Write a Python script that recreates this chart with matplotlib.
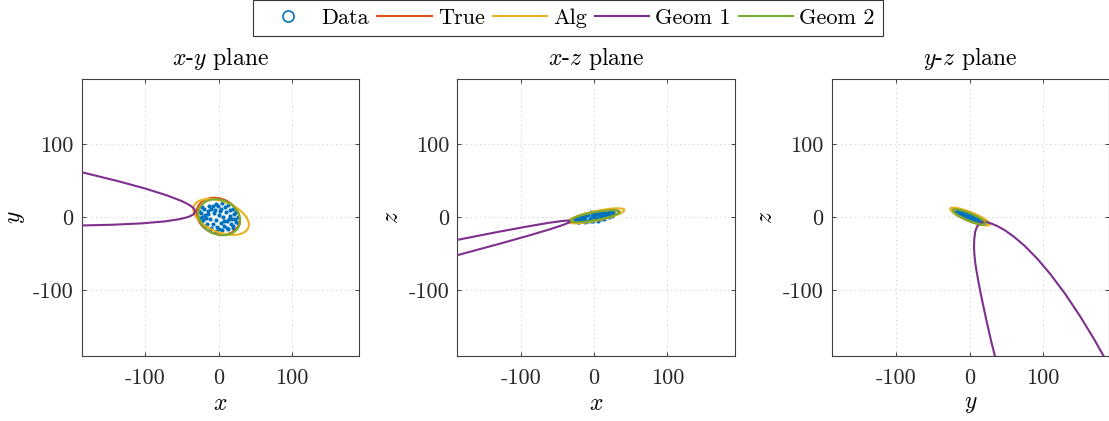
import matplotlib
matplotlib.use("Agg")
import matplotlib.pyplot as plt
from matplotlib.patches import Ellipse
from matplotlib.lines import Line2D

plt.rcParams["font.family"] = "cmr10"
plt.rcParams["mathtext.fontset"] = "cm"
plt.rcParams["axes.unicode_minus"] = False

# measured points (x, y, z)
data_x = [26, 24, 20, 13, 5, -4, -13, -20, -24, -26, -24, -19, -12, -4, 5, 13, 20, 24,
          -18, -15, -10, -6, -12, -8, -2, 3, 8, 12, 16, 10, 4, 0, -3, 6, 18, -21, -16, 15,
          -8, 9, 1, 17, -14, 21, -22, 11, -5, 2, -10, 14, -17, 7, -1, 22, -22, 20, -26, 26]
data_y = [1, 7, 12, 17, 19, 18, 16, 12, 6, -1, -7, -12, -17, -19, -18, -16, -12, -6,
          3, 9, 12, 6, -3, -9, -13, -8, -12, -5, 2, 7, 12, 3, -4, 0, -3, -4, -9, 10,
          15, 14, -16, -9, 5, 4, 1, -14, 10, 8, -14, -2, -1, -5, 16, -2, 14, -15, 8, -8]
data_z = [4.3, 2.1, -0.2, -2.8, -4.6, -5.5, -6.1, -5.8, -4.3, -2.3, 0.0, 2.3, 4.9, 6.7, 7.6, 8.1, 7.8, 6.3,
          -2.5, -4.1, -4.4, -1.8, 0.3, 2.9, 5.0, 4.1, 6.1, 4.3, 2.6, 0.1, -2.4, 0.0, 1.9, 1.8, 4.5, -0.6, 1.7, -0.2,
          -5.1, -2.4, 6.4, 6.4, -2.6, 2.6, -2.4, 7.2, -3.0, -1.4, 4.2, 3.6, -1.1, 3.6, -4.4, 4.7, -6.7, 8.8, -5.3, 7.3]

# fitted ellipses per plane: (centre_h, centre_v, width, height, angle)
true_ell = [(-0.5, 1.5, 61, 48, -25), (1.0, 1.5, 66, 12, 10.5), (-0.5, 0.5, 48, 11, -23)]
alg_ell = [(3.5, 0.5, 80, 42, -22), (3.0, 2.0, 78, 13, 12), (0.5, 1.0, 58, 12, -22)]
geom2_ell = [(1.0, 0.0, 59, 47, -25), (1.5, 1.5, 68, 11, 10.5), (-0.5, 0.5, 49, 10, -23)]

# Geom 1 curve
geom1_xy_x = [-197, -138, -99, -70, -50.5, -41, -36.3, -33.6, -32.3, -32, -32.7, -34.4, -37.7,
              -42.9, -53.3, -73.7, -104.2, -144.7, -195]
geom1_xy_y = [64.3, 49.8, 39.1, 29.9, 22.4, 17.6, 14.5, 11.9, 9.7, 7.7, 5.8, 4.0, 2.0,
              0.0, -2.6, -5.7, -8.3, -10.2, -11.4]
geom1_xz_x = [-204.6, -131, -91.6, -61.9, -44.0, -37.0, -33.9, -32.3, -31.7, -32.1, -33.4, -36.2,
              -42.8, -59.9, -88.7, -127.3, -199.7]
geom1_xz_z = [-34.5, -20.0, -12.7, -7.6, -5.1, -4.5, -4.4, -4.7, -5.1, -5.8, -6.7, -8.0,
              -10.6, -16.3, -24.9, -35.8, -55.5]
geom1_yz_y = [37, 35, 29.4, 24.2, 19.6, 15.6, 12.3, 9.6, 7.6, 6.4, 6.0, 6.3, 7.5, 10, 14, 18,
              20, 24, 30, 38, 48, 60, 75, 92, 110, 130, 150, 170, 190]
geom1_yz_z = [-200, -192, -170, -147, -126, -107, -90, -75, -62, -50, -40, -30, -20, -13, -8, -6.0,
              -6.2, -6.9, -8.7, -12.1, -17.8, -26.3, -39.1, -56.5, -77.8, -104.6, -134.6, -167.5, -203.2]

titles = [r"$x$-$y$ plane", r"$x$-$z$ plane", r"$y$-$z$ plane"]
xlabels = [r"$x$", r"$x$", r"$y$"]
ylabels = [r"$y$", r"$z$", r"$z$"]
ticks = [-100, 0, 100]

blue, red, yellow, purple, green = "#0072BD", "#D95319", "#EDB120", "#7E2F8E", "#77AC30"

fig = plt.figure(figsize=(11.09, 4.21), dpi=100)
lefts = [0.0737, 0.4124, 0.7500]
xlims = [(-186.5, 191.5), (-186.5, 191.5), (-188, 190)]

scatter_pairs = [(data_x, data_y), (data_x, data_z), (data_y, data_z)]
geom1_pairs = [(geom1_xy_x, geom1_xy_y), (geom1_xz_x, geom1_xz_z), (geom1_yz_y, geom1_yz_z)]

for i in range(3):
    ax = fig.add_axes([lefts[i], 0.1551, 0.2500, 0.6577])
    h, v = scatter_pairs[i]
    ax.plot(h, v, "o", color=blue, ms=3, mew=0, zorder=2)
    for ell, col in [(true_ell[i], red), (alg_ell[i], yellow)]:
        cx, cy, w, hh, ang = ell
        ax.add_patch(Ellipse((cx, cy), w, hh, angle=ang, fill=False, ec=col, lw=1.5, zorder=3))
    gh, gv = geom1_pairs[i]
    ax.plot(gh, gv, color=purple, lw=1.5, zorder=3)
    cx, cy, w, hh, ang = geom2_ell[i]
    ax.add_patch(Ellipse((cx, cy), w, hh, angle=ang, fill=False, ec=green, lw=1.5, zorder=4))

    ax.set_xlim(xlims[i])
    ax.set_ylim(-189.6, 189.7)
    ax.set_xticks(ticks)
    ax.set_yticks(ticks)
    ax.grid(True, color="#cfcfcf", linestyle=(0, (1, 3)), lw=0.8)
    ax.set_axisbelow(True)
    ax.tick_params(direction="in", top=True, right=True, length=3, width=0.6,
                   colors="#262626", labelsize=16)
    ax.tick_params(axis="x", pad=9)
    ax.tick_params(axis="y", pad=6)
    for s in ax.spines.values():
        s.set_color("#404040")
        s.set_linewidth(0.8)
    ax.set_title(titles[i], fontsize=17, pad=10)
    ax.set_xlabel(xlabels[i], fontsize=17, labelpad=4)
    ax.set_ylabel(ylabels[i], fontsize=17, labelpad=4)

handles = [Line2D([], [], ls="", marker="o", ms=8, mfc="none", mec=blue, mew=1.2),
           Line2D([], [], color=red, lw=1.5),
           Line2D([], [], color=yellow, lw=1.5),
           Line2D([], [], color=purple, lw=1.5),
           Line2D([], [], color=green, lw=1.5)]
labels = ["Data", "True", "Alg", "Geom 1", "Geom 2"]
leg = fig.legend(handles, labels, loc="upper center", bbox_to_anchor=(0.5122, 0.999), ncol=5,
                 fontsize=16, frameon=True, fancybox=False, edgecolor="black",
                 handlelength=2.45, handletextpad=0.27, columnspacing=0.36, borderpad=0.35,
                 borderaxespad=0)
leg.get_frame().set_linewidth(0.8)

fig.savefig("out.png", dpi=100)
